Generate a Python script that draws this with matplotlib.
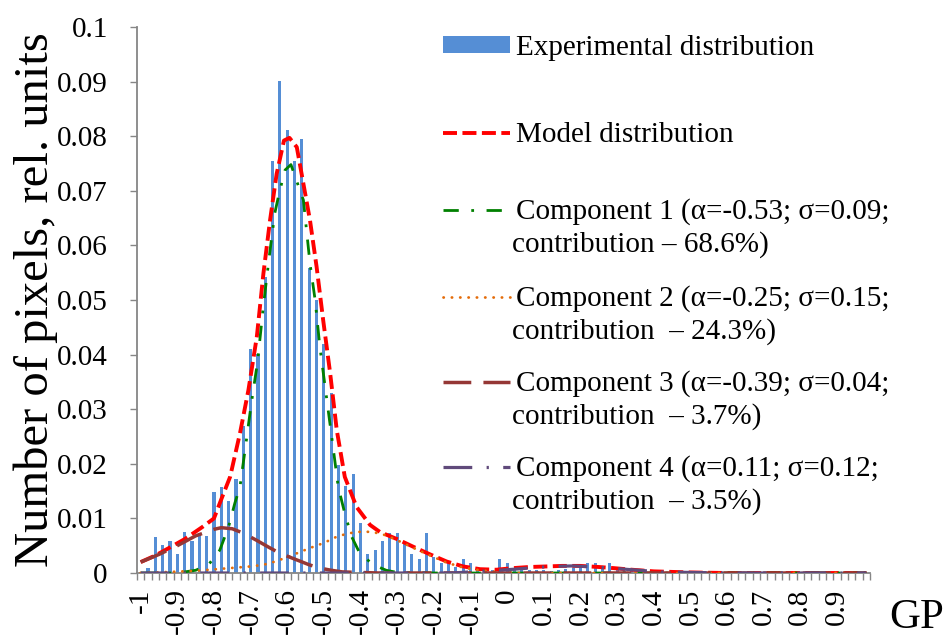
import numpy as np
import matplotlib.pyplot as plt

plt.rcParams['font.family'] = ['Liberation Serif', 'DejaVu Serif']

# histogram (bin centres every 0.02 from -1 to 0.98)
bin_x = [round(-1 + 0.02 * i, 2) for i in range(100)]
exp_counts = [
    0.0002, 0.0009, 0.0066, 0.0051, 0.0059, 0.0034, 0.0075, 0.0059, 0.0074, 0.0067,
    0.0149, 0.0157, 0.0132, 0.0173, 0.0270, 0.0411, 0.0402, 0.0543, 0.0755, 0.0902,
    0.0811, 0.0755, 0.0795, 0.0558, 0.0500, 0.0420, 0.0330, 0.0198, 0.0160, 0.0181,
    0.0092, 0.0035, 0.0042, 0.0059, 0.0074, 0.0074, 0.0054, 0.0034, 0.0026, 0.0073,
    0.0030, 0.0018, 0.0019, 0.0011, 0.0026, 0.0018, 0.0010, 0.0008, 0.0006, 0.0025,
    0.0018, 0.0010, 0.0008, 0.0006, 0.0005, 0.0006, 0.0004, 0.0005, 0.0007, 0.0009,
    0.0012, 0.0018, 0.0018, 0.0012, 0.0018, 0.0010, 0.0004, 0.0003, 0.0003, 0.0002,
    0.0002, 0.0001, 0.0001, 0.0001, 0.0001, 0.0, 0.0, 0.0, 0.0, 0.0,
    0.0, 0.0, 0.0, 0.0, 0.0, 0.0, 0.0, 0.0, 0.0, 0.0,
    0.0, 0.0, 0.0, 0.0, 0.0, 0.0, 0.0, 0.0, 0.0, 0.0,
]

# model curve
model_x = [-1.0, -0.96, -0.925, -0.88, -0.83, -0.80, -0.78, -0.756, -0.729, -0.706,
           -0.683, -0.665, -0.647, -0.629, -0.609, -0.594, -0.574, -0.556, -0.538,
           -0.52, -0.502, -0.483, -0.465, -0.443, -0.411, -0.374, -0.347, -0.30,
           -0.256, -0.21, -0.165, -0.12, -0.074, -0.03, 0.017, 0.06, 0.107, 0.15,
           0.199, 0.25, 0.29, 0.34, 0.40, 0.50, 0.60, 0.98]
model_y = [0.0020, 0.0032, 0.0045, 0.0062, 0.0085, 0.0100, 0.0135, 0.0176, 0.0256, 0.0335,
           0.0433, 0.0549, 0.0646, 0.0731, 0.0792, 0.0797, 0.0780, 0.0713, 0.0646,
           0.0561, 0.0463, 0.0366, 0.0262, 0.0176, 0.0121, 0.0088, 0.0075, 0.0062,
           0.0048, 0.0034, 0.0021, 0.0012, 0.0007, 0.0006, 0.0009, 0.0011, 0.0012, 0.0013,
           0.0013, 0.0011, 0.0009, 0.0006, 0.0003, 0.0001, 0.0, 0.0]

comp1_x = [-1.0, -0.9, -0.85, -0.815, -0.784, -0.76, -0.743, -0.729, -0.714, -0.698,
           -0.681, -0.665, -0.649, -0.634, -0.622, -0.606, -0.59, -0.577, -0.556,
           -0.538, -0.524, -0.511, -0.492, -0.474, -0.461, -0.443, -0.424, -0.402,
           -0.365, -0.33, -0.30, -0.20, 0.98]
comp1_y = [0.0, 0.0, 0.0005, 0.0015, 0.0042, 0.0085, 0.0128, 0.0158, 0.0231, 0.0311,
           0.0387, 0.0490, 0.0580, 0.0659, 0.0696, 0.0738, 0.0748, 0.0723, 0.0683,
           0.0567, 0.0500, 0.0414, 0.0317, 0.0225, 0.0158, 0.0109, 0.0066, 0.0036,
           0.0015, 0.0005, 0.0001, 0.0, 0.0]

comp2_x = [-1.0, -0.92, -0.85, -0.756, -0.70, -0.665, -0.633, -0.60, -0.574, -0.552,
           -0.529, -0.50, -0.47, -0.438, -0.41, -0.388, -0.36, -0.33, -0.30, -0.256,
           -0.21, -0.165, -0.12, -0.074, -0.03, 0.02, 0.98]
comp2_y = [0.0, 0.0002, 0.0004, 0.0009, 0.0012, 0.0015, 0.0021, 0.0029, 0.0036, 0.0042,
           0.0048, 0.0055, 0.0065, 0.0072, 0.0075, 0.0076, 0.0074, 0.0069, 0.0060, 0.0046,
           0.0032, 0.0019, 0.0010, 0.0005, 0.0002, 0.0, 0.0]

comp3_x = [-1.0, -0.95, -0.90, -0.85, -0.80, -0.78, -0.75, -0.72, -0.684, -0.65,
           -0.62, -0.574, -0.54, -0.511, -0.48, -0.45, -0.40, -0.35, 0.98]
comp3_y = [0.0020, 0.0034, 0.0050, 0.0068, 0.0080, 0.0083, 0.0081, 0.0073, 0.0060, 0.0047,
           0.0036, 0.0024, 0.0015, 0.0009, 0.0005, 0.0002, 0.0001, 0.0, 0.0]

comp4_x = [-1.0, -0.15, -0.10, -0.05, 0.0, 0.06, 0.12, 0.18, 0.24, 0.30, 0.36, 0.42,
           0.50, 0.60, 0.98]
comp4_y = [0.0, 0.0, 0.0002, 0.0004, 0.0006, 0.0009, 0.0012, 0.0013, 0.0011, 0.0008,
           0.0005, 0.0002, 0.0001, 0.0, 0.0]

y_ticks = [0, 0.01, 0.02, 0.03, 0.04, 0.05, 0.06, 0.07, 0.08, 0.09, 0.1]
y_tick_labels = ['0', '0.01', '0.02', '0.03', '0.04', '0.05', '0.06', '0.07', '0.08', '0.09', '0.1']
x_tick_labels = ['-1', '-0.9', '-0.8', '-0.7', '-0.6', '-0.5', '-0.4', '-0.3', '-0.2', '-0.1',
                 '0', '0.1', '0.2', '0.3', '0.4', '0.5', '0.6', '0.7', '0.8', '0.9']

legend_texts = [
    ('Experimental distribution', None),
    ('Model distribution', None),
    ('Component 1 (\u03b1=-0.53; \u03c3=0.09;', 'contribution \u2013 68.6%)'),
    ('Component 2 (\u03b1=-0.25; \u03c3=0.15;', 'contribution  \u2013 24.3%)'),
    ('Component 3 (\u03b1=-0.39; \u03c3=0.04;', 'contribution  \u2013 3.7%)'),
    ('Component 4 (\u03b1=0.11; \u03c3=0.12;', 'contribution  \u2013 3.5%)'),
]

W, H = 952, 639
fig = plt.figure(figsize=(W / 100, H / 100), dpi=100)
ax = fig.add_axes([137 / W, 1 - 573 / H, (870 - 137) / W, (573 - 27) / H])

bars = ax.bar(bin_x, exp_counts, width=0.0085, color='#558ED5', zorder=1)

l_model, = ax.plot(model_x, model_y, color='#FF0000', lw=2.8, dashes=(3.6, 1.4), zorder=3)
l_c1, = ax.plot(comp1_x, comp1_y, color='#008000', lw=2.0, dashes=(5.5, 4.5, 1, 4.5), zorder=4)
l_c2, = ax.plot(comp2_x, comp2_y, color='#E46C0A', lw=2.0, linestyle=(0, (0.1, 2.9)),
                dash_capstyle='round', zorder=5)
l_c3, = ax.plot(comp3_x, comp3_y, color='#953735', lw=2.5, dashes=(8, 3.5), zorder=6)
l_c4, = ax.plot(comp4_x, comp4_y, color='#604A7B', lw=2.3, dashes=(9, 4.5, 0.7, 4.5), zorder=7)

ax.set_xlim(-1.01, 0.99)
ax.set_ylim(0, 0.1)

for side in ['top', 'right']:
    ax.spines[side].set_visible(False)
for side in ['left', 'bottom']:
    ax.spines[side].set_color('#868686')
    ax.spines[side].set_linewidth(1.3)

ax.set_yticks(y_ticks)
ax.set_yticklabels(y_tick_labels)
ax.tick_params(axis='y', direction='out', length=5, width=1, color='#868686',
               labelsize=21, pad=16)

ax.set_xticks([-1 + 0.1 * j for j in range(20)])
ax.set_xticklabels(x_tick_labels, rotation=90)
ax.set_xticks([-1.01 + 0.02 * k for k in range(101)], minor=True)
ax.tick_params(axis='x', which='major', length=0, labelsize=21, pad=11)
ax.tick_params(axis='x', which='minor', direction='out', length=5, width=1, color='#868686')

ax.set_ylabel('Number of pixels, rel. units', fontsize=35)
ax.yaxis.set_label_coords(-0.108, 0.5)
fig.text(889 / W, 2 / H, 'GP', fontsize=31, va='bottom', ha='left')

# legend, one entry at a time to keep the uneven spacing
handles = [bars, l_model, l_c1, l_c2, l_c3, l_c4]
line1_y = [48, 135, 212, 299, 384, 469]
for h, (t1, t2), y in zip(handles, legend_texts, line1_y):
    fig.legend([h], [t1], loc='center left', bbox_to_anchor=(443 / W, 1 - y / H),
               frameon=False, fontsize=21, handlelength=2.3, handleheight=0.5,
               handletextpad=0.2, borderpad=0, borderaxespad=0)
    if t2:
        fig.text(512 / W, 1 - (y + 33) / H, t2, fontsize=21, va='center', ha='left')

fig.savefig('out.png', dpi=100)
